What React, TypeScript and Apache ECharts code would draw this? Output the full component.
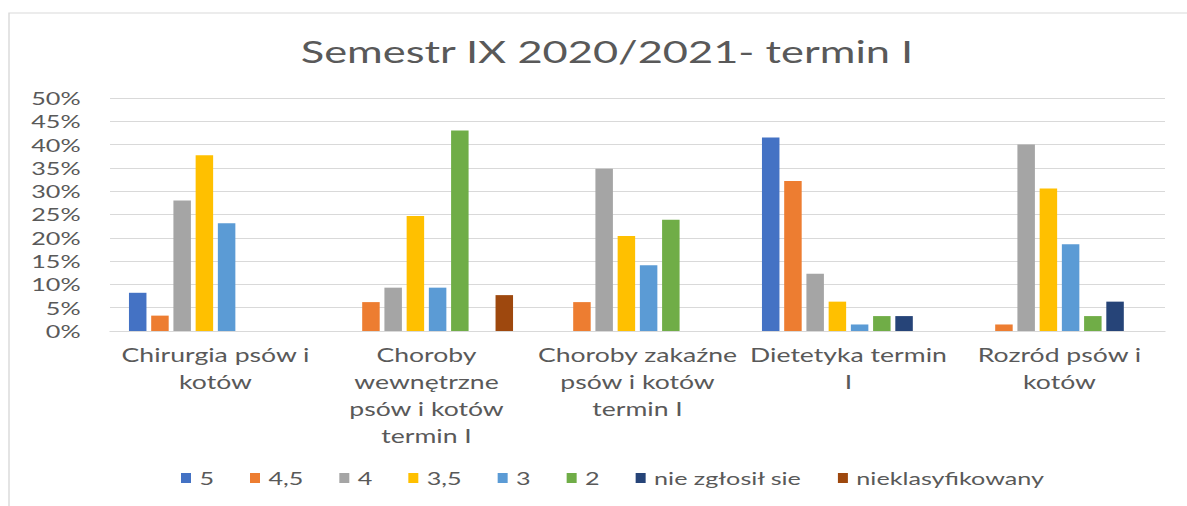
import React, { useEffect, useRef } from "react";
import * as echarts from "echarts";

const categories = [
  "Chirurgia psów i\nkotów",
  "Choroby\nwewnętrzne\npsów i kotów\ntermin I",
  "Choroby zakaźne\npsów i kotów\ntermin I",
  "Dietetyka termin\nI",
  "Rozród psów i\nkotów",
];

const seriesNames = ["5", "4,5", "4", "3,5", "3", "2", "nie zgłosił sie", "nieklasyfikowany"];

const grade5 = [8.2, 0, 0, 41.5, 0];
const grade45 = [3.3, 6.2, 6.2, 32.2, 1.4];
const grade4 = [28.0, 9.3, 34.8, 12.3, 40.0];
const grade35 = [37.7, 24.7, 20.4, 6.3, 30.6];
const grade3 = [23.1, 9.3, 14.1, 1.4, 18.6];
const grade2 = [0, 43.0, 23.9, 3.2, 3.2];
const notReported = [0, 0, 0, 3.2, 6.3];
const unclassified = [0, 7.7, 0, 0, 0];

const seriesValues = [grade5, grade45, grade4, grade35, grade3, grade2, notReported, unclassified];
const colors = ["#4472C4", "#ED7D31", "#A5A5A5", "#FFC000", "#5B9BD5", "#70AD47", "#264478", "#9E480E"];

const yMin = 0;
const yMax = 50;
const yInterval = 5;

const STRETCH = 1.4;
const W = 1187 / STRETCH;
const H = 506;
const FONT = "Lato";
const TEXT = "#595959";

export default function App() {
  const ref = useRef<HTMLDivElement>(null);
  useEffect(() => {
    const chart = echarts.init(ref.current!, null, { renderer: "svg", width: W, height: H });
    chart.setOption({
      animation: false,
      backgroundColor: "#ffffff",
      title: {
        text: "Semestr IX 2020/2021- termin I",
        left: 600 / STRETCH,
        textAlign: "center",
        top: 31,
        textStyle: { fontFamily: FONT, fontSize: 31, fontWeight: "normal", color: TEXT },
      },
      graphic: [
        {
          type: "rect",
          shape: { x: 9 / STRETCH, y: 13, width: 2000, height: 1000 },
          style: { fill: "none", stroke: "#D9D9D9", lineWidth: 1 },
          z: -10,
          silent: true,
        },
      ],
      legend: {
        data: seriesNames,
        left: 174 / STRETCH,
        top: 464,
        itemWidth: 10 / STRETCH,
        itemHeight: 10,
        itemGap: 25.7,
        icon: "rect",
        textStyle: { fontFamily: FONT, fontSize: 18, color: TEXT, padding: [0, 0, 0, 1] },
      },
      grid: {
        left: 110 / STRETCH,
        right: 22 / STRETCH,
        top: 98,
        bottom: H - 331,
        containLabel: false,
      },
      xAxis: {
        type: "category",
        data: categories,
        axisLine: { show: true, lineStyle: { color: "#D9D9D9", width: 1 } },
        axisTick: { show: false },
        axisLabel: {
          fontFamily: FONT,
          fontSize: 19,
          color: TEXT,
          lineHeight: 27,
          margin: 10,
          interval: 0,
          align: "center",
        },
      },
      yAxis: {
        type: "value",
        min: yMin,
        max: yMax,
        interval: yInterval,
        axisLine: { show: false },
        axisTick: { show: false },
        splitLine: { lineStyle: { color: "#D9D9D9", width: 1 } },
        axisLabel: {
          formatter: "{value}%",
          fontFamily: FONT,
          fontSize: 18,
          color: TEXT,
          margin: 21,
        },
      },
      series: seriesNames.map((name, i) => ({
        name,
        type: "bar",
        data: seriesValues[i],
        barWidth: 17.5 / STRETCH,
        barGap: "27%",
        itemStyle: { color: colors[i] },
      })),
    });
    return () => chart.dispose();
  }, []);
  return (
    <div
      style={{
        position: "fixed",
        left: 0,
        top: 0,
        width: 1187,
        height: H,
        overflow: "hidden",
        background: "#ffffff",
      }}
    >
      <div
        ref={ref}
        style={{ width: W, height: H, transform: `scaleX(${STRETCH})`, transformOrigin: "0 0" }}
      />
    </div>
  );
}
